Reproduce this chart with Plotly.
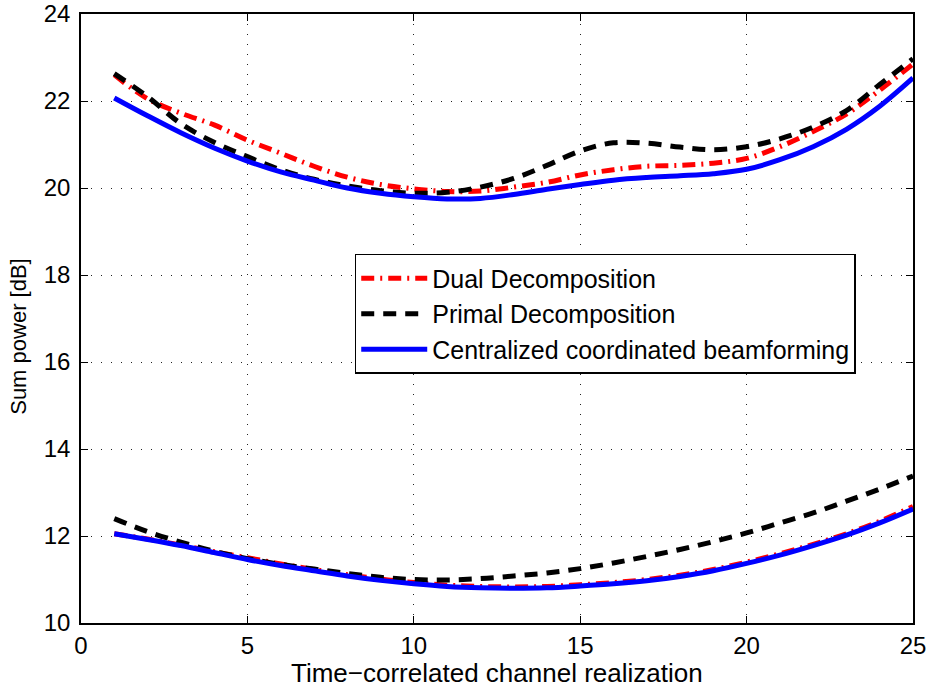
import plotly.graph_objects as go

x = list(range(1, 26))

dual_upper = [22.6, 22.05, 21.72, 21.45, 21.1, 20.8, 20.5, 20.25, 20.08, 19.98, 19.92, 19.93, 20.02,
              20.13, 20.3, 20.42, 20.5, 20.52, 20.57, 20.68, 20.95, 21.3, 21.7, 22.25, 22.85]
primal_upper = [22.63, 22.1, 21.48, 21.05, 20.72, 20.42, 20.2, 20.05, 19.94, 19.88, 19.9, 20.02, 20.22,
                20.52, 20.85, 21.04, 21.03, 20.94, 20.88, 20.95, 21.13, 21.4, 21.78, 22.38, 22.97]
central_upper = [22.07, 21.66, 21.27, 20.92, 20.62, 20.37, 20.18, 20.0, 19.88, 19.8, 19.75, 19.76, 19.85,
                 19.97, 20.08, 20.18, 20.24, 20.28, 20.33, 20.43, 20.65, 20.95, 21.35, 21.88, 22.53]

dual_lower = [12.05, 11.93, 11.79, 11.64, 11.5, 11.36, 11.23, 11.11, 11.01, 10.93, 10.87, 10.84, 10.83,
              10.84, 10.88, 10.93, 11.0, 11.1, 11.23, 11.4, 11.59, 11.81, 12.05, 12.34, 12.68]
primal_lower = [12.4, 12.1, 11.86, 11.65, 11.48, 11.35, 11.24, 11.14, 11.05, 11.0, 10.99, 11.02, 11.08,
                11.15, 11.25, 11.38, 11.53, 11.69, 11.87, 12.07, 12.3, 12.53, 12.8, 13.08, 13.38]
central_lower = [12.05, 11.92, 11.78, 11.62, 11.46, 11.32, 11.2, 11.08, 10.98, 10.9, 10.84, 10.81, 10.8,
                 10.81, 10.85, 10.9, 10.97, 11.07, 11.2, 11.37, 11.56, 11.78, 12.02, 12.3, 12.62]

x_ticks = [0, 5, 10, 15, 20, 25]
y_ticks = [10, 12, 14, 16, 18, 20, 22, 24]
x_title = "Time\u2212correlated channel realization"
y_title = "Sum power [dB]"

series = [
    ("Dual Decomposition", dual_upper, dual_lower, "#ff0000", "13px,6px,2px,6px"),
    ("Primal Decomposition", primal_upper, primal_lower, "#000000", "13px,9px"),
    ("Centralized coordinated beamforming", central_upper, central_lower, "#0000ff", "solid"),
]

fig = go.Figure()
for name, up, lo, color, dash in series:
    fig.add_trace(go.Scatter(x=x, y=up, mode="lines", name=name, legendgroup=name,
                             line=dict(color=color, width=5, dash=dash, shape="spline")))
    fig.add_trace(go.Scatter(x=x, y=lo, mode="lines", name=name, legendgroup=name, showlegend=False,
                             line=dict(color=color, width=5, dash=dash, shape="spline")))

font = "Liberation Sans, Arial, sans-serif"
axis_common = dict(
    showline=True, linecolor="black", linewidth=1.5, mirror="ticks",
    ticks="inside", ticklen=7, tickcolor="black", tickwidth=1,
    showgrid=True, gridcolor="#222222", gridwidth=1, griddash="1px,9px",
    zeroline=False, automargin=False,
    tickfont=dict(family=font, size=24, color="black"),
)
fig.update_xaxes(range=[0, 25], tickvals=x_ticks, **axis_common)
fig.update_yaxes(range=[10, 24], tickvals=y_ticks, ticklabelstandoff=4, **axis_common)

fig.add_annotation(text=x_title, xref="paper", yref="paper", x=0.5, y=-0.082,
                   xanchor="center", yanchor="middle", showarrow=False,
                   font=dict(family=font, size=26, color="black"))
fig.add_annotation(text=y_title, xref="paper", yref="paper", x=-0.0745, y=0.47,
                   xanchor="center", yanchor="middle", showarrow=False, textangle=-90,
                   font=dict(family=font, size=22, color="black"))

fig.update_layout(
    width=929, height=689,
    margin=dict(l=81, r=16, t=14, b=66),
    plot_bgcolor="white", paper_bgcolor="white",
    font=dict(family=font, color="black"),
    legend=dict(x=0.329, y=0.606, xanchor="left", yanchor="top",
                bgcolor="white", bordercolor="black", borderwidth=1.5,
                font=dict(family=font, size=25, color="black"),
                itemwidth=66, tracegroupgap=0),
    showlegend=True,
)

fig.write_html("out.html")
